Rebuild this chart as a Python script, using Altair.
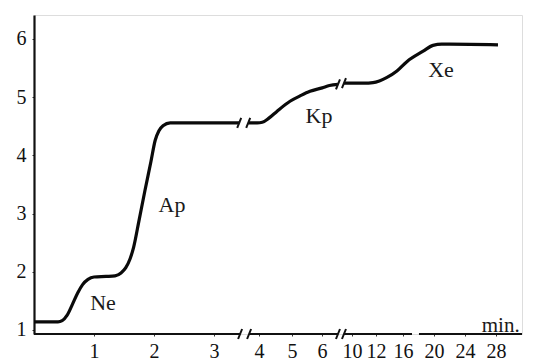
import altair as alt
import pandas as pd

# ---- curve (time in minutes, value) ----
seg_a_t = [0.00, 0.40, 0.47, 0.55, 0.64, 0.73, 0.81, 0.90, 1.00, 1.20, 1.35, 1.45, 1.53,
           1.60, 1.66, 1.75, 1.85, 1.95, 2.02, 2.08, 2.15, 2.27, 2.60, 3.00, 3.56]
seg_a_v = [1.14, 1.14, 1.16, 1.25, 1.44, 1.64, 1.78, 1.87, 1.91, 1.92, 1.93, 1.98, 2.07,
           2.22, 2.42, 2.88, 3.40, 3.90, 4.26, 4.42, 4.51, 4.56, 4.56, 4.56, 4.56]
seg_b_t = [3.76, 3.96, 4.10, 4.30, 4.55, 4.94, 5.30, 5.60, 6.03, 7.00, 8.13]
seg_b_v = [4.56, 4.56, 4.57, 4.64, 4.76, 4.93, 5.03, 5.10, 5.16, 5.20, 5.22]
seg_c_t = [8.93, 10.0, 11.0, 11.75, 12.5, 13.63, 15.1, 16.5, 18.6, 19.87, 21.0, 22.0, 28.26]
seg_c_v = [5.24, 5.24, 5.24, 5.25, 5.28, 5.34, 5.45, 5.61, 5.79, 5.89, 5.91, 5.91, 5.90]

# ---- labels on the curve ----
gas_names = ["Ne", "Ap", "Kp", "Xe"]
gas_t = [1.15, 2.30, 5.90, 20.9]
gas_v = [1.34, 3.03, 4.56, 5.35]

# ---- axes ----
x_ticks = [1, 2, 3, 4, 5, 6, 10, 12, 16, 20, 24, 28]
y_ticks = [1, 2, 3, 4, 5, 6]
x_break_minutes = [0, 1, 2, 3, 4, 5, 6, 10, 12, 16, 20, 24, 28, 31.4]
x_break_pixels = [0, 60, 120, 180, 225, 258, 288, 318, 342, 369, 400, 431, 462, 488]
y_domain = [0.931, 6.412]
axis_seg_start = [0, 3.78, 8.93, 18.06]
axis_seg_end = [3.58, 8.13, 17.16, 31.4]
slash_t = [3.58, 3.78, 8.13, 8.93, 3.56, 3.76, 8.13, 8.93]
slash_v = [0.931, 0.931, 0.931, 0.931, 4.56, 4.56, 5.22, 5.24]

FONT = "Liberation Serif"

curve = pd.DataFrame({
    "t": seg_a_t + seg_b_t + seg_c_t,
    "v": seg_a_v + seg_b_v + seg_c_v,
    "seg": ["a"] * len(seg_a_t) + ["b"] * len(seg_b_t) + ["c"] * len(seg_c_t),
})
labels = pd.DataFrame({"t": gas_t, "v": gas_v, "name": gas_names})
axis_df = pd.DataFrame({"t": axis_seg_start, "t2": axis_seg_end, "v": [y_domain[0]] * 4})
slash_df = pd.DataFrame({"t": slash_t, "v": slash_v})
unit_df = pd.DataFrame({"t": [31.1], "v": [0.95], "txt": ["min."]})

xscale = alt.Scale(domain=x_break_minutes, range=x_break_pixels, nice=False, zero=False)
yscale = alt.Scale(domain=y_domain, nice=False, zero=False)

xaxis = alt.Axis(values=x_ticks, title=None, domain=False, grid=False, tickSize=2,
                 tickColor="#333", labelPadding=5, labelFont=FONT, labelFontSize=20,
                 labelColor="#111", labelFlush=False, labelOverlap=False, format="d")
yaxis = alt.Axis(values=y_ticks, title=None, grid=False, domain=True, domainColor="#111",
                 domainWidth=2.2, tickSize=2, tickColor="#333", labelPadding=6,
                 labelFont=FONT, labelFontSize=20, labelColor="#111", format="d")

line = alt.Chart(curve).mark_line(interpolate="monotone", strokeWidth=3.2, color="#0a0a0a").encode(
    x=alt.X("t:Q", scale=xscale, axis=xaxis),
    y=alt.Y("v:Q", scale=yscale, axis=yaxis),
    detail="seg:N",
)

axis_rules = alt.Chart(axis_df).mark_rule(strokeWidth=2, color="#111").encode(
    x=alt.X("t:Q", scale=xscale), x2="t2:Q", y=alt.Y("v:Q", scale=yscale)
)

slashes = alt.Chart(slash_df).mark_rule(
    strokeWidth=2, color="#111", xOffset=-2, x2Offset=2, yOffset=5, y2Offset=-5
).encode(
    x=alt.X("t:Q", scale=xscale), x2="t:Q",
    y=alt.Y("v:Q", scale=yscale), y2="v:Q",
)

text = alt.Chart(labels).mark_text(font=FONT, fontSize=22, color="#1a1a1a",
                                   baseline="alphabetic", align="center").encode(
    x=alt.X("t:Q", scale=xscale), y=alt.Y("v:Q", scale=yscale), text="name:N"
)

unit = alt.Chart(unit_df).mark_text(font=FONT, fontSize=21, color="#1a1a1a",
                                    baseline="alphabetic", align="right", dy=-1).encode(
    x=alt.X("t:Q", scale=xscale), y=alt.Y("v:Q", scale=yscale), text="txt:N"
)

chart = alt.layer(axis_rules, line, slashes, text, unit).properties(
    width=488, height=319,
    autosize=alt.AutoSizeParams(type="none"),
    padding={"left": 26, "top": 7, "right": 4, "bottom": 28},
).configure_view(stroke=None).configure(background="white")

chart.save("out.html", embed_options={"renderer": "svg", "actions": False})
